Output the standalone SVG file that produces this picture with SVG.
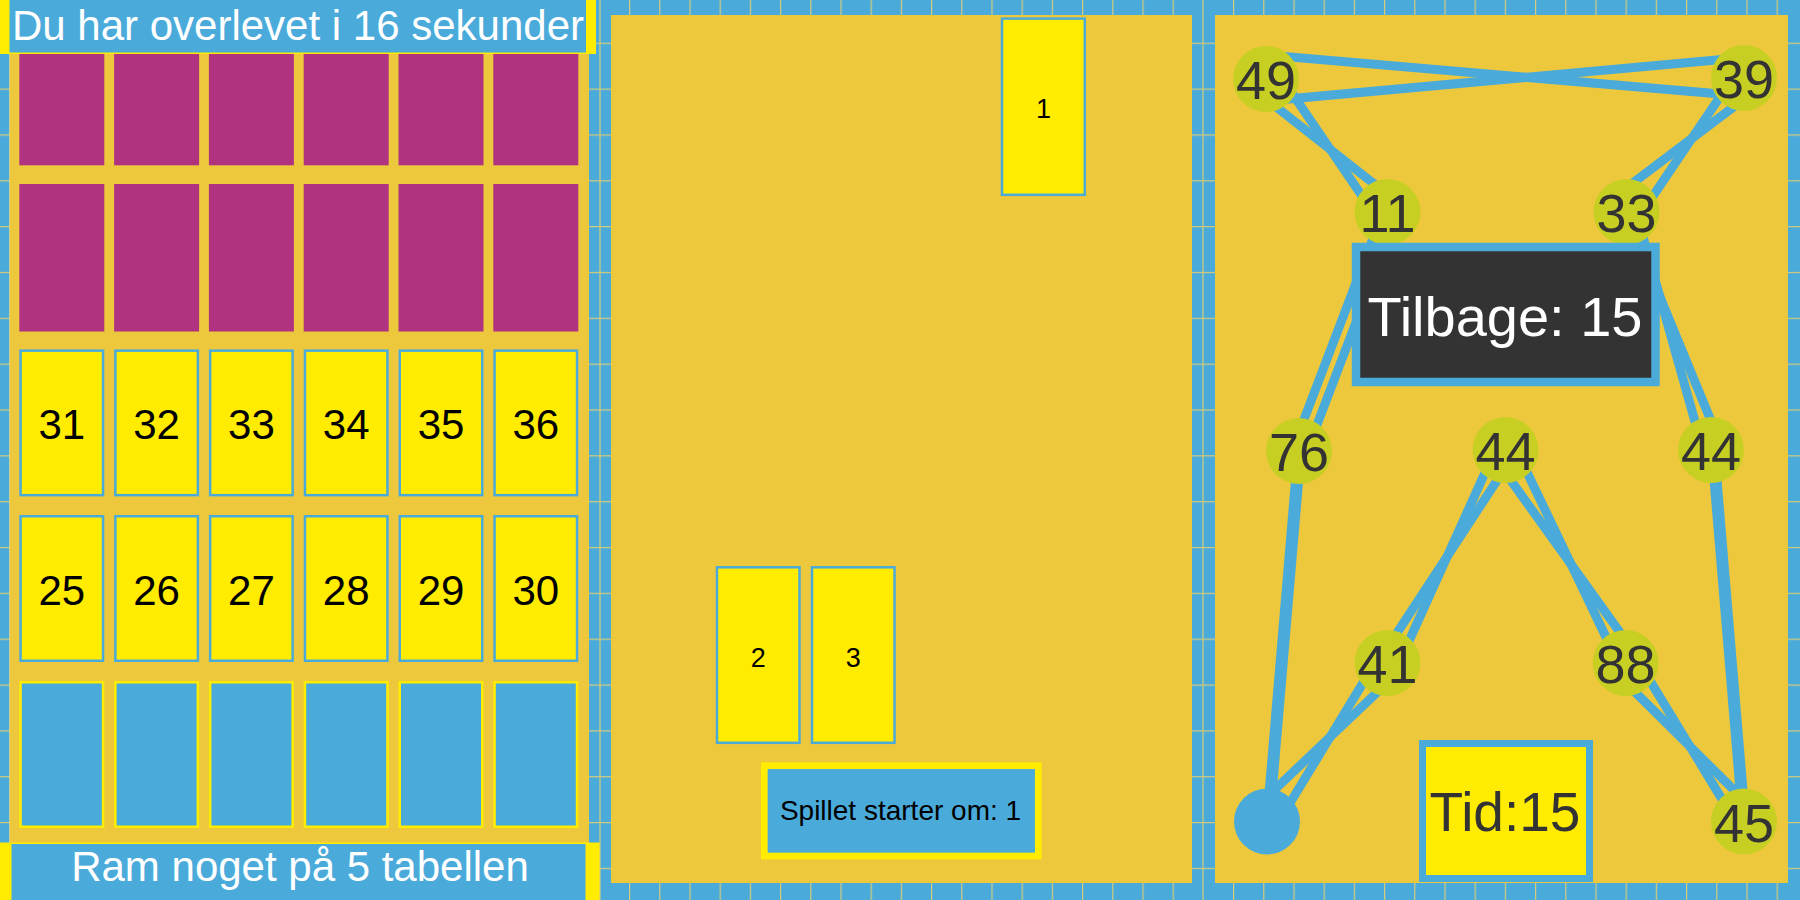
<svg xmlns="http://www.w3.org/2000/svg" width="1800" height="900" viewBox="0 0 1800 900">
<defs>
<style>
.t{font-family:'Liberation Sans',Arial,Helvetica,sans-serif;text-anchor:middle}
.bg{fill:#eec83c}
.cy{fill:#ffec00;stroke:#4aabdb;stroke-width:2.5}
.cb{fill:#4aabdb;stroke:#ffec00;stroke-width:2.5}
.cm{fill:#b03380}
.num{font-size:42px;fill:#000}
.sm{font-size:27px;fill:#000}
.nc{fill:#c8cf23}
.nl{font-size:54px;fill:#333}
.sep{fill:#d6cb7a}
#edges line{stroke:#4aabdb;stroke-width:9;fill:none}
</style>
<pattern id="tH" patternUnits="userSpaceOnUse" x="25" y="0" width="30.2" height="900">
<rect width="30.2" height="900" fill="#4aabdb"/>
<rect width="1.2" height="900" fill="#d6cb7a"/>
</pattern>
<pattern id="tV" patternUnits="userSpaceOnUse" x="0" y="-3.14" width="1800" height="45.84">
<rect width="1800" height="45.84" fill="#4aabdb"/>
<rect width="1800" height="1.2" fill="#d6cb7a"/>
</pattern>
</defs>

<!-- LEFT PANEL -->
<g id="panel-left">
<rect x="0" y="0" width="600" height="15" fill="url(#tH)"/>
<rect x="0" y="883" width="600" height="17" fill="url(#tH)"/>
<rect x="0" y="0" width="9.5" height="900" fill="url(#tV)"/>
<rect x="589" y="0" width="11" height="900" fill="url(#tV)"/>
<rect class="bg" x="9.5" y="15" width="579.5" height="868"/>
</g>
<g id="cards-magenta">
<g id="m1"><rect class="cm" x="19.3" y="18.3" width="85" height="147"/></g>
<g id="m2"><rect class="cm" x="114.1" y="18.3" width="85" height="147"/></g>
<g id="m3"><rect class="cm" x="208.9" y="18.3" width="85" height="147"/></g>
<g id="m4"><rect class="cm" x="303.7" y="18.3" width="85" height="147"/></g>
<g id="m5"><rect class="cm" x="398.5" y="18.3" width="85" height="147"/></g>
<g id="m6"><rect class="cm" x="493.3" y="18.3" width="85" height="147"/></g>
<g id="m7"><rect class="cm" x="19.3" y="184" width="85" height="147.5"/></g>
<g id="m8"><rect class="cm" x="114.1" y="184" width="85" height="147.5"/></g>
<g id="m9"><rect class="cm" x="208.9" y="184" width="85" height="147.5"/></g>
<g id="m10"><rect class="cm" x="303.7" y="184" width="85" height="147.5"/></g>
<g id="m11"><rect class="cm" x="398.5" y="184" width="85" height="147.5"/></g>
<g id="m12"><rect class="cm" x="493.3" y="184" width="85" height="147.5"/></g>
</g>
<g id="cards-yellow">
<g id="c31"><rect class="cy" x="20.55" y="350.65" width="82.5" height="144.5"/><text class="t num" x="61.8" y="439">31</text></g>
<g id="c32"><rect class="cy" x="115.35" y="350.65" width="82.5" height="144.5"/><text class="t num" x="156.6" y="439">32</text></g>
<g id="c33"><rect class="cy" x="210.15" y="350.65" width="82.5" height="144.5"/><text class="t num" x="251.4" y="439">33</text></g>
<g id="c34"><rect class="cy" x="304.95" y="350.65" width="82.5" height="144.5"/><text class="t num" x="346.2" y="439">34</text></g>
<g id="c35"><rect class="cy" x="399.75" y="350.65" width="82.5" height="144.5"/><text class="t num" x="441" y="439">35</text></g>
<g id="c36"><rect class="cy" x="494.55" y="350.65" width="82.5" height="144.5"/><text class="t num" x="535.8" y="439">36</text></g>
<g id="c25"><rect class="cy" x="20.55" y="516.25" width="82.5" height="144.5"/><text class="t num" x="61.8" y="604.5">25</text></g>
<g id="c26"><rect class="cy" x="115.35" y="516.25" width="82.5" height="144.5"/><text class="t num" x="156.6" y="604.5">26</text></g>
<g id="c27"><rect class="cy" x="210.15" y="516.25" width="82.5" height="144.5"/><text class="t num" x="251.4" y="604.5">27</text></g>
<g id="c28"><rect class="cy" x="304.95" y="516.25" width="82.5" height="144.5"/><text class="t num" x="346.2" y="604.5">28</text></g>
<g id="c29"><rect class="cy" x="399.75" y="516.25" width="82.5" height="144.5"/><text class="t num" x="441" y="604.5">29</text></g>
<g id="c30"><rect class="cy" x="494.55" y="516.25" width="82.5" height="144.5"/><text class="t num" x="535.8" y="604.5">30</text></g>
</g>
<g id="cards-blue">
<g id="b1"><rect class="cb" x="20.55" y="682.25" width="82.5" height="144.5"/></g>
<g id="b2"><rect class="cb" x="115.35" y="682.25" width="82.5" height="144.5"/></g>
<g id="b3"><rect class="cb" x="210.15" y="682.25" width="82.5" height="144.5"/></g>
<g id="b4"><rect class="cb" x="304.95" y="682.25" width="82.5" height="144.5"/></g>
<g id="b5"><rect class="cb" x="399.75" y="682.25" width="82.5" height="144.5"/></g>
<g id="b6"><rect class="cb" x="494.55" y="682.25" width="82.5" height="144.5"/></g>
</g>
<g id="title-bar">
<rect x="0" y="0" width="596" height="54" fill="#ffec00"/>
<rect x="9.5" y="0" width="576.5" height="52.5" fill="#4aabdb"/>
<text class="t" x="298" y="39.5" font-size="42" fill="#fff">Du har overlevet i 16 sekunder</text>
</g>
<g id="bottom-bar">
<rect x="0" y="842.5" width="600" height="57.5" fill="#ffec00"/>
<rect x="11.5" y="844" width="574" height="56" fill="#4aabdb"/>
<text class="t" x="300" y="880.5" font-size="42" fill="#fff">Ram noget på 5 tabellen</text>
</g>

<!-- MIDDLE PANEL -->
<g id="panel-middle">
<rect x="600" y="0" width="603" height="15" fill="url(#tH)"/>
<rect x="600" y="883" width="603" height="17" fill="url(#tH)"/>
<rect x="600" y="0" width="11" height="900" fill="url(#tV)"/>
<rect x="1192" y="0" width="11" height="900" fill="url(#tV)"/>
<rect class="sep" x="599.4" y="0" width="1.2" height="900"/>
<rect class="bg" x="611" y="15" width="581" height="868"/>
</g>
<g id="card-1"><rect class="cy" x="1002" y="18.6" width="82.8" height="176.2"/><text class="t sm" x="1043.4" y="118">1</text></g>
<g id="card-2"><rect class="cy" x="717" y="567.3" width="82.5" height="175.5"/><text class="t sm" x="758.3" y="666.5">2</text></g>
<g id="card-3"><rect class="cy" x="812" y="567.3" width="82.5" height="175.5"/><text class="t sm" x="853.3" y="666.5">3</text></g>
<g id="countdown"><rect x="764.3" y="765.7" width="274" height="90.3" fill="#4aabdb" stroke="#ffec00" stroke-width="6.7"/><text class="t" x="900.5" y="820" font-size="28" fill="#000">Spillet starter om: 1</text></g>

<!-- RIGHT PANEL -->
<g id="panel-right">
<rect x="1203" y="0" width="597" height="15" fill="url(#tH)"/>
<rect x="1203" y="883" width="597" height="17" fill="url(#tH)"/>
<rect x="1203" y="0" width="12" height="900" fill="url(#tV)"/>
<rect x="1788" y="0" width="12" height="900" fill="url(#tV)"/>
<rect class="sep" x="1202.4" y="0" width="1.2" height="900"/>
<rect class="bg" x="1215" y="15" width="573" height="868"/>
</g>

<g id="edges">
<line x1="1266" y1="55" x2="1744" y2="96"/>
<line x1="1266" y1="101" x2="1744" y2="57.6"/>
<line x1="1272.1" y1="103.8" x2="1380.9" y2="189.2"/>
<line x1="1292.4" y1="93.7" x2="1365.6" y2="201.3"/>
<line x1="1739.6" y1="102.3" x2="1626.7" y2="187.7"/>
<line x1="1723.4" y1="91.7" x2="1646.9" y2="205"/>
<line x1="1292" y1="451" x2="1383" y2="212"/>
<line x1="1307" y1="451" x2="1398" y2="212"/>
<line x1="1636" y1="212" x2="1703" y2="450"/>
<line x1="1625" y1="212" x2="1723" y2="450"/>
<line x1="1488.1" y1="465.9" x2="1407.6" y2="644.1"/>
<line x1="1502.8" y1="471.6" x2="1391.2" y2="641.7"/>
<line x1="1524" y1="466" x2="1609.3" y2="644"/>
<line x1="1505.9" y1="473.6" x2="1624.1" y2="638.1"/>
<line x1="1365.9" y1="678.2" x2="1286.6" y2="808.5"/>
<line x1="1383.3" y1="686.4" x2="1263.5" y2="800.2"/>
<line x1="1646.4" y1="674.8" x2="1725.7" y2="805.3"/>
<line x1="1629.2" y1="686.3" x2="1741" y2="797"/>
<line x1="1298" y1="451" x2="1266.7" y2="821"/>
<line x1="1301.2" y1="451" x2="1269.7" y2="821"/>
<line x1="1711.5" y1="450" x2="1742.6" y2="821.5"/>
<line x1="1714.5" y1="450" x2="1745.6" y2="821.5"/>
</g>

<g id="node-49"><circle class="nc" cx="1266" cy="79" r="33"/><text class="t nl" x="1266" y="98.5">49</text></g>
<g id="node-39"><circle class="nc" cx="1744" cy="78" r="33"/><text class="t nl" x="1744" y="97.5">39</text></g>
<g id="node-11"><circle class="nc" cx="1387.5" cy="212" r="33"/><text class="t nl" x="1387.5" y="231.5">11</text></g>
<g id="node-33"><circle class="nc" cx="1626.5" cy="212" r="33"/><text class="t nl" x="1626.5" y="231.5">33</text></g>
<g id="node-76"><circle class="nc" cx="1299" cy="451" r="33"/><text class="t nl" x="1299" y="470.5">76</text></g>
<g id="node-44a"><circle class="nc" cx="1505.5" cy="450" r="33"/><text class="t nl" x="1505.5" y="469.5">44</text></g>
<g id="node-44b"><circle class="nc" cx="1711" cy="450" r="33"/><text class="t nl" x="1711" y="469.5">44</text></g>
<g id="node-41"><circle class="nc" cx="1387.5" cy="663" r="33"/><text class="t nl" x="1387.5" y="682.5">41</text></g>
<g id="node-88"><circle class="nc" cx="1625.6" cy="663" r="33"/><text class="t nl" x="1625.6" y="682.5">88</text></g>
<g id="node-start"><circle cx="1267" cy="821.5" r="33" fill="#4aabdb"/></g>
<g id="node-45"><circle class="nc" cx="1744" cy="821.5" r="33"/><text class="t nl" x="1744" y="841.5">45</text></g>

<g id="tilbage"><rect x="1356" y="247" width="299.5" height="135" fill="#333" stroke="#4aabdb" stroke-width="8.5"/><text class="t" x="1505" y="336" font-size="56" fill="#fff">Tilbage: 15</text></g>
<g id="tid"><rect x="1422.5" y="743.5" width="167" height="135" fill="#ffec00" stroke="#4aabdb" stroke-width="7"/><text class="t" x="1505" y="831" font-size="55" fill="#333">Tid:15</text></g>
</svg>
